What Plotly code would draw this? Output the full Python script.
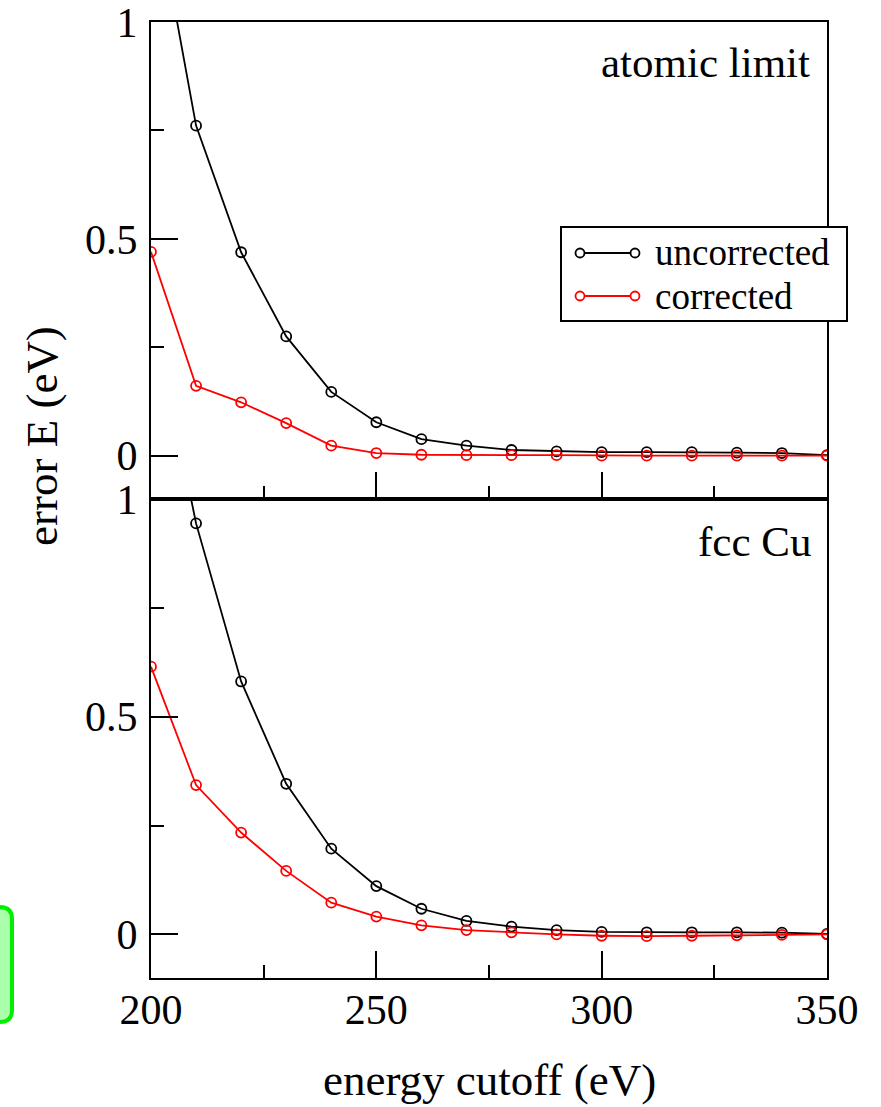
import plotly.graph_objects as go

# ---- data ----
cutoff = [200, 210, 220, 230, 240, 250, 260, 270, 280, 290, 300, 310, 320, 330, 340, 350]

atomic_uncorrected = [1.33, 0.761, 0.469, 0.275, 0.147, 0.077, 0.038, 0.023, 0.013, 0.010,
                      0.008, 0.008, 0.008, 0.007, 0.006, 0.001]
atomic_corrected = [0.470, 0.161, 0.123, 0.075, 0.023, 0.006, 0.002, 0.001, 0.001, 0.001,
                    0.000, 0.000, 0.000, 0.000, 0.000, 0.000]

fcc_uncorrected = [1.45, 0.944, 0.581, 0.346, 0.197, 0.111, 0.059, 0.031, 0.018, 0.010,
                   0.006, 0.005, 0.005, 0.005, 0.004, 0.001]
fcc_corrected = [0.615, 0.343, 0.234, 0.146, 0.073, 0.041, 0.021, 0.010, 0.005, 0.000,
                 -0.003, -0.004, -0.003, -0.002, -0.001, 0.000]

series_names = ["uncorrected", "corrected"]
series_colors = ["black", "red"]
panel_labels = ["atomic limit", "fcc Cu"]
x_title = "energy cutoff (eV)"
y_title = "error E (eV)"

FONT = "'Liberation Serif', 'Times New Roman', serif"
W, H = 881, 1107
L, R, T, B = 151, 54, 22, 129
PW, PH = W - L - R, H - T - B

def pxx(px):
    return (px - L) / PW

def pxy(py):
    return (H - B - py) / PH

split = pxy(499)

fig = go.Figure()

panels = [
    ("x", "y", [atomic_uncorrected, atomic_corrected]),
    ("x2", "y2", [fcc_uncorrected, fcc_corrected]),
]
for xa, ya, data in panels:
    for name, vals, col in zip(series_names, data, series_colors):
        fig.add_trace(go.Scatter(
            x=cutoff, y=vals, xaxis=xa, yaxis=ya, name=name,
            mode="lines+markers", showlegend=False,
            line=dict(color=col, width=1.8),
            marker=dict(symbol="circle-open", size=10, color=col, line=dict(width=1.8, color=col)),
            cliponaxis=True,
        ))

axis_common = dict(
    showline=True, linecolor="black", linewidth=2, mirror=True,
    ticks="inside", ticklen=27, tickwidth=2, tickcolor="black",
    showgrid=False, zeroline=False, ticklabeloverflow="allow",
    tickfont=dict(family=FONT, size=42, color="black"),
)
xminor = dict(ticks="inside", ticklen=13, tickwidth=2, tickcolor="black", dtick=25, tick0=200)
yminor = dict(ticks="inside", ticklen=13, tickwidth=2, tickcolor="black", dtick=0.25, tick0=0)

fig.update_layout(
    width=W, height=H,
    margin=dict(l=L, r=R, t=T, b=B, autoexpand=False),
    paper_bgcolor="white", plot_bgcolor="white",
    font=dict(family=FONT, color="black"),
    showlegend=False,
    xaxis=dict(domain=[0, 1], anchor="y", range=[200, 350], tick0=200, dtick=50,
               showticklabels=False, minor=xminor, **axis_common),
    xaxis2=dict(domain=[0, 1], anchor="y2", range=[200, 350], tick0=200, dtick=50, matches="x",
                ticklabelstandoff=-6, minor=xminor, **axis_common),
    yaxis=dict(domain=[split, 1], anchor="x", range=[-0.1, 1], tick0=0, dtick=0.5,
               ticklabelstandoff=3, minor=yminor, **axis_common),
    yaxis2=dict(domain=[0, split], anchor="x2", range=[-0.1, 1], tick0=0, dtick=0.5,
                ticklabelstandoff=3, minor=yminor, **axis_common),
)

annotations = [
    dict(text=panel_labels[0], xref="paper", yref="paper", x=pxx(812), y=pxy(62),
         xanchor="right", yanchor="middle", showarrow=False, font=dict(family=FONT, size=43, color="black")),
    dict(text=panel_labels[1], xref="paper", yref="paper", x=pxx(813), y=pxy(541),
         xanchor="right", yanchor="middle", showarrow=False, font=dict(family=FONT, size=43, color="black")),
    dict(text=x_title, xref="paper", yref="paper", x=pxx(490), y=pxy(1080),
         xanchor="center", yanchor="middle", showarrow=False, font=dict(family=FONT, size=45, color="black")),
    dict(text=y_title, xref="paper", yref="paper", x=pxx(42), y=pxy(436),
         xanchor="center", yanchor="middle", textangle=-90, showarrow=False,
         font=dict(family=FONT, size=45, color="black")),
]

# ---- legend (xmgrace style: line with a circle at each end) ----
shapes = []
shapes.append(dict(type="rect", xref="paper", yref="paper",
                   x0=pxx(561), x1=pxx(847), y0=pxy(321), y1=pxy(227),
                   line=dict(color="black", width=2), fillcolor="white", layer="above"))
row_y = [253, 296]
for name, col, ry in zip(series_names, series_colors, row_y):
    shapes.append(dict(type="line", xref="paper", yref="paper",
                       x0=pxx(580), x1=pxx(635), y0=pxy(ry), y1=pxy(ry),
                       line=dict(color=col, width=1.8), layer="above"))
    for cx in (580, 635):
        shapes.append(dict(type="circle", xref="paper", yref="paper",
                           x0=pxx(cx - 4.5), x1=pxx(cx + 4.5), y0=pxy(ry + 4.5), y1=pxy(ry - 4.5),
                           line=dict(color=col, width=1.8), fillcolor="white", layer="above"))
    annotations.append(dict(text=name, xref="paper", yref="paper", x=pxx(653), y=pxy(ry),
                            xanchor="left", yanchor="middle", showarrow=False,
                            font=dict(family=FONT, size=37, color="black")))

# green rounded box partly visible at the left edge
x0, x1 = pxx(-30), pxx(12)
y0, y1 = pxy(1022), pxy(907)
rx, ry_ = 12 / PW, 12 / PH
path = (f"M{x0},{y1} L{x1-rx},{y1} Q{x1},{y1} {x1},{y1-ry_} "
        f"L{x1},{y0+ry_} Q{x1},{y0} {x1-rx},{y0} L{x0},{y0} Z")
shapes.append(dict(type="path", path=path, xref="paper", yref="paper",
                   fillcolor="#aaffaa", line=dict(color="#00ee00", width=4), layer="above"))

fig.update_layout(annotations=annotations, shapes=shapes)

fig.write_html("out.html")
